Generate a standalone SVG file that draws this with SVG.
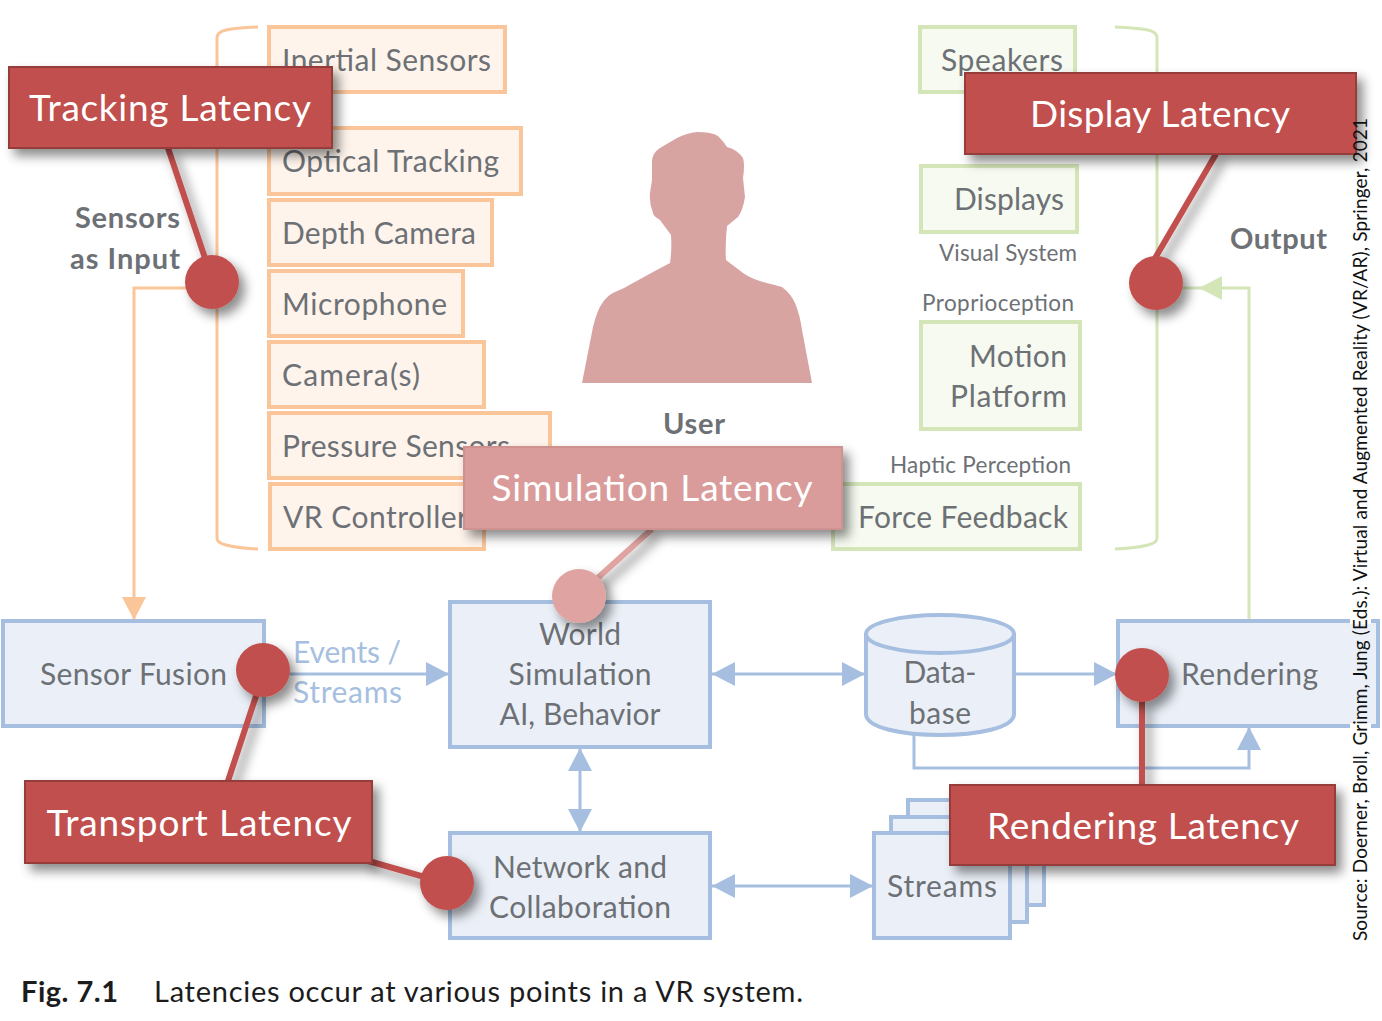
<svg xmlns="http://www.w3.org/2000/svg" width="1382" height="1021" viewBox="0 0 1382 1021">
<style>
text{font-family:"Lato","Carlito","Open Sans",sans-serif}
.t{font-size:30px;fill:#6d7175}
.b{font-size:29px;fill:#6d7175;font-weight:700}
.s{font-size:22.5px;fill:#6d7175}
.l{font-size:37px;fill:#fff}
.o{fill:#fef4ec;stroke:#fbc59a;stroke-width:4}
.g{fill:#f6faf0;stroke:#d4e5b8;stroke-width:4}
.u{fill:#ebf0f8;stroke:#a6bfe0;stroke-width:4}
.lat{fill:#c0504d;stroke:#943c3a;stroke-width:2;filter:url(#sh)}
.pink{fill:#d99c9b;stroke:#d09290;stroke-width:2;filter:url(#sh)}
.dot{fill:#c0504d;filter:url(#sh)}
.ld{fill:none;stroke:#c0504d;stroke-width:6;filter:url(#sh)}
.c{fill:none;stroke-width:3}
.cb{stroke:#a6bfe0}
.co{stroke:#fbc59a}
.cg{stroke:#d4e5b8}
</style>
<defs>
<filter id="sh" filterUnits="userSpaceOnUse" x="0" y="0" width="1382" height="1021"><feDropShadow dx="6" dy="7" stdDeviation="5.500" flood-color="#000" flood-opacity="0.45"/></filter>
<marker id="ab" markerUnits="userSpaceOnUse" markerWidth="24" markerHeight="24" refX="23" refY="12" orient="auto-start-reverse"><path d="M0 0L23 12L0 24Z" fill="#a6bfe0"/></marker>
<marker id="ao" markerUnits="userSpaceOnUse" markerWidth="24" markerHeight="24" refX="23" refY="12" orient="auto"><path d="M0 0L23 12L0 24Z" fill="#fbc59a"/></marker>
<marker id="ag" markerUnits="userSpaceOnUse" markerWidth="24" markerHeight="24" refX="23" refY="12" orient="auto"><path d="M0 0L23 12L0 24Z" fill="#d4e5b8"/></marker>
</defs>
<rect width="1382" height="1021" fill="#fff"/>
<g id="connectors">
<path class="c co" d="M258 27Q236 28 226 30Q217 32 217 38V538Q217 543 226 545Q236 548 258 549"/>
<path class="c cg" d="M1115 27Q1137 28 1148 30Q1157 32 1157 38V538Q1157 543 1148 545Q1137 548 1115 549"/>
<path class="c co" d="M190 288H134V620" marker-end="url(#ao)"/>
<path class="c cg" d="M1249 620V288H1199" marker-end="url(#ag)"/>
<path class="c cg" d="M1205 288H1180"/>
<path class="c cb" d="M285 674H449" marker-end="url(#ab)"/>
<path class="c cb" d="M712 674H865" marker-start="url(#ab)" marker-end="url(#ab)"/>
<path class="c cb" d="M1016 674H1117" marker-end="url(#ab)"/>
<path class="c cb" d="M914 734V768H1249V727" marker-end="url(#ab)"/>
<path class="c cb" d="M580 748V832" marker-start="url(#ab)" marker-end="url(#ab)"/>
<path class="c cb" d="M712 886H873" marker-start="url(#ab)" marker-end="url(#ab)"/>
</g>
<g id="inertial"><rect class="o" x="269" y="27" width="236" height="65"/><text class="t" x="282" y="71" textLength="209">Inertial Sensors</text></g>
<g id="optical"><rect class="o" x="269" y="128" width="252" height="66"/><text class="t" x="282" y="172" textLength="217">Optical Tracking</text></g>
<g id="depth"><rect class="o" x="269" y="200" width="223" height="65"/><text class="t" x="282" y="244" textLength="194">Depth Camera</text></g>
<g id="microphone"><rect class="o" x="269" y="271" width="194" height="65"/><text class="t" x="282" y="315" textLength="165">Microphone</text></g>
<g id="camera"><rect class="o" x="269" y="342" width="215" height="65"/><text class="t" x="282" y="386" textLength="138">Camera(s)</text></g>
<g id="pressure"><rect class="o" x="269" y="413" width="281" height="65"/><text class="t" x="282" y="457" textLength="228">Pressure Sensors</text></g>
<g id="vr"><rect class="o" x="270" y="484" width="214" height="65"/><text class="t" x="283" y="528" textLength="185">VR Controller</text></g>
<g id="speakers"><rect class="g" x="920" y="27" width="155" height="65"/><text class="t" x="941" y="71" textLength="122">Speakers</text></g>
<g id="displays"><rect class="g" x="921" y="166" width="156" height="66"/><text class="t" x="954" y="210" textLength="110">Displays</text></g>
<g id="motion"><rect class="g" x="921" y="322" width="159" height="107"/><text class="t" x="1067" y="367" text-anchor="end" textLength="98">Motion</text><text class="t" x="1067" y="407" text-anchor="end" textLength="117">Platform</text></g>
<g id="force"><rect class="g" x="833" y="484" width="247" height="65"/><text class="t" x="858" y="528" textLength="210">Force Feedback</text></g>
<g id="user"><path d="M582 383L593 327Q597 310 603 302Q608 295 615 292Q625 288 633 283L653 272L670 263Q672 250 671 235L660 220Q653 216 653 213Q649 203 650 193L652 180V162Q652 153 660 148L677 138Q687 133 697 132Q712 132 718 136Q724 142 727 147Q738 150 743 158Q745 165 743 178L745 197Q743 210 738 217L727 226Q725 245 726 260L743 273Q752 279 763 282Q775 285 782 287Q791 294 795 303Q800 315 802 330L812 383Z" fill="#d8a4a2"/><text class="b" x="694" y="434" text-anchor="middle" textLength="62">User</text></g>
<g id="labels">
<text class="b" x="180" y="228" text-anchor="end" textLength="105">Sensors</text>
<text class="b" x="180" y="269" text-anchor="end" textLength="110">as Input</text>
<text class="b" x="1230" y="249" textLength="97">Output</text>
<text class="s" x="939" y="261" textLength="138">Visual System</text>
<text class="s" x="922" y="311" textLength="152">Proprioception</text>
<text class="s" x="890" y="473" textLength="181">Haptic Perception</text>
<text class="t" x="293" y="663" style="fill:#a6bfe0" textLength="108">Events /</text>
<text class="t" x="293" y="703" style="fill:#a6bfe0" textLength="109">Streams</text>
</g>
<g id="sensor-fusion"><rect class="u" x="3" y="621" width="261" height="105"/><text class="t" x="40" y="685" textLength="187">Sensor Fusion</text></g>
<g id="world"><rect class="u" x="450" y="602" width="260" height="145"/><text class="t" x="580" y="645" text-anchor="middle" textLength="82">World</text><text class="t" x="580" y="685" text-anchor="middle" textLength="143">Simulation</text><text class="t" x="580" y="725" text-anchor="middle" textLength="161">AI, Behavior</text></g>
<g id="network"><rect class="u" x="450" y="833" width="260" height="105"/><text class="t" x="580" y="878" text-anchor="middle" textLength="174">Network and</text><text class="t" x="580" y="918" text-anchor="middle" textLength="182">Collaboration</text></g>
<g id="database"><path class="u" d="M866 634V714C866 742 1014 742 1014 714V634"/><ellipse class="u" cx="940" cy="634" rx="74" ry="19"/><text class="t" x="940" y="683" text-anchor="middle" textLength="73">Data-</text><text class="t" x="940" y="724" text-anchor="middle" textLength="62">base</text></g>
<g id="rendering"><rect class="u" x="1118" y="621" width="260" height="105"/><text class="t" x="1181" y="685" textLength="137">Rendering</text></g>
<g id="streams"><rect class="u" x="908" y="800" width="136" height="105"/><rect class="u" x="891" y="817" width="136" height="105"/><rect class="u" x="874" y="833" width="136" height="105"/><text class="t" x="887" y="897" textLength="110">Streams</text></g>
<path d="M1350 618h21v6h-21zM1350 723h21v6h-21z" fill="#fff"/>
<g id="leaders">
<path class="ld" d="M168 148L207 264"/>
<path class="ld" d="M1216 154L1154 260"/>
<path class="ld" d="M652 529L590 585" style="stroke:#dfa4a2"/>
<path class="ld" d="M258 690L228 781"/>
<path class="ld" d="M365 860L428 878"/>
<path class="ld" d="M1142 700V786"/>
</g>
<g id="tracking-latency"><rect class="lat" x="9" y="67" width="323" height="81"/><circle class="dot" cx="212" cy="282" r="27"/><text class="l" x="170" y="121" text-anchor="middle" textLength="282">Tracking Latency</text></g>
<g id="display-latency"><rect class="lat" x="965" y="73" width="391" height="81"/><circle class="dot" cx="1156" cy="283" r="27"/><text class="l" x="1160" y="127" text-anchor="middle" textLength="260">Display Latency</text></g>
<g id="simulation-latency"><rect class="pink" x="464" y="447" width="378" height="82"/><circle cx="579" cy="596" r="27" fill="#dfa4a2" filter="url(#sh)"/><text class="l" x="652" y="501" text-anchor="middle" textLength="321">Simulation Latency</text></g>
<g id="transport-latency"><rect class="lat" x="25" y="781" width="347" height="82"/><circle class="dot" cx="263" cy="670" r="27"/><circle class="dot" cx="447" cy="883" r="27"/><text class="l" x="199" y="836" text-anchor="middle" textLength="305">Transport Latency</text></g>
<g id="rendering-latency"><rect class="lat" x="950" y="785" width="385" height="80"/><circle class="dot" cx="1142" cy="675" r="27"/><text class="l" x="1143" y="839" text-anchor="middle" textLength="312">Rendering Latency</text></g>
<g id="caption">
<text x="21" y="1002" style="font-size:29px;font-weight:700;fill:#1c1c1c" textLength="97">Fig. 7.1</text>
<text x="154" y="1002" style="font-size:29px;fill:#1c1c1c" textLength="649">Latencies occur at various points in a VR system.</text>
<text transform="translate(1367 941) rotate(-90)" style="font-size:19px;fill:#111" textLength="823">Source: Doerner, Broll, Grimm, Jung (Eds.): Virtual and Augmented Reality (VR/AR), Springer, 2021</text>
</g>
</svg>
